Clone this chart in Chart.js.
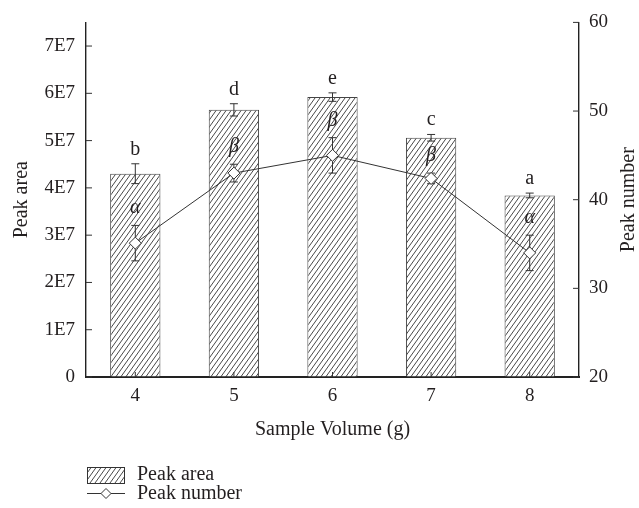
<!DOCTYPE html>
<html>
<head>
<meta charset="utf-8">
<script src="https://cdn.jsdelivr.net/npm/chart.js@4"></script>
<style>
  body { margin: 0; background: #fff; }
  canvas { display: block; }
</style>
</head>
<body>
<canvas id="chart" width="639" height="508"></canvas>
<script>
// Data
const sampleVolumes = ['4', '5', '6', '7', '8'];
const peakArea = [4.30e7, 5.65e7, 5.92e7, 5.06e7, 3.84e7];
const peakAreaErr = [0.21e7, 0.13e7, 0.09e7, 0.07e7, 0.05e7];
const peakNumber = [35.1, 43.0, 45.0, 42.4, 34.0];
const peakNumberErr = [2.0, 1.0, 2.0, 0.6, 2.0];
const areaLetters = ['b', 'd', 'e', 'c', 'a'];
const numberLetters = ['α', 'β', 'β', 'β', 'α'];

const FONT = '"Liberation Serif", "Times New Roman", serif';
const INK = '#231f20';

// diagonal hatch used for the bars (slightly steeper than 45deg)
function makeHatch() {
    const w = 5, h = 7;
    const c = document.createElement('canvas');
    c.width = w; c.height = h;
    const g = c.getContext('2d');
    g.fillStyle = '#fff';
    g.fillRect(0, 0, w, h);
    g.strokeStyle = '#333';
    g.lineWidth = 0.9;
    g.beginPath();
    g.moveTo(0, h); g.lineTo(w, 0);
    g.moveTo(-w, h); g.lineTo(0, 0);
    g.moveTo(w, h); g.lineTo(2 * w, 0);
    g.stroke();
    return g.createPattern(c, 'repeat');
}
const hatch = makeHatch();

// error bars, drawn right after the bars so the diamonds sit on top
const errorBars = {
    id: 'errorBars',
    afterDatasetDraw(chart, args) {
        if (args.index !== 1) return;
        const ctx = chart.ctx;
        const x = chart.scales.x, y = chart.scales.y, y1 = chart.scales.y1;
        ctx.save();
        ctx.strokeStyle = '#333';
        ctx.lineWidth = 1;
        const bar = (px, top, bot) => {
            ctx.beginPath();
            ctx.moveTo(px, top); ctx.lineTo(px, bot);
            ctx.moveTo(px - 4, top); ctx.lineTo(px + 4, top);
            ctx.moveTo(px - 4, bot); ctx.lineTo(px + 4, bot);
            ctx.stroke();
        };
        sampleVolumes.forEach((v, i) => {
            const px = x.getPixelForValue(i);
            bar(px, y.getPixelForValue(peakArea[i] + peakAreaErr[i]), y.getPixelForValue(peakArea[i] - peakAreaErr[i]));
            bar(px, y1.getPixelForValue(peakNumber[i] + peakNumberErr[i]), y1.getPixelForValue(peakNumber[i] - peakNumberErr[i]));
        });
        ctx.restore();
    }
};

// significance letters, inward ticks, right title and legend
const decorations = {
    id: 'decorations',
    afterDraw(chart) {
        const ctx = chart.ctx;
        const x = chart.scales.x, y = chart.scales.y, y1 = chart.scales.y1;
        const area = chart.chartArea;
        ctx.save();
        ctx.fillStyle = INK;
        ctx.textAlign = 'center';
        ctx.textBaseline = 'alphabetic';
        sampleVolumes.forEach((v, i) => {
            const px = x.getPixelForValue(i);
            ctx.font = '20px ' + FONT;
            ctx.fillText(areaLetters[i], px, y.getPixelForValue(peakArea[i] + peakAreaErr[i]) - 9);
            ctx.font = 'italic 20px ' + FONT;
            ctx.fillText(numberLetters[i], px, y1.getPixelForValue(peakNumber[i] + peakNumberErr[i]) - 12);
        });

        // inward tick marks
        ctx.strokeStyle = '#333';
        ctx.lineWidth = 1;
        ctx.beginPath();
        y.ticks.forEach((t, i) => {
            const py = y.getPixelForTick(i);
            const len = Math.round(t.value / 5e6) % 2 === 0 ? 6 : 4;
            ctx.moveTo(area.left, py); ctx.lineTo(area.left + len, py);
        });
        y1.ticks.forEach((t, i) => {
            const py = y1.getPixelForTick(i);
            ctx.moveTo(area.right, py); ctx.lineTo(area.right - 6, py);
        });
        x.ticks.forEach((t, i) => {
            const px = x.getPixelForTick(i);
            ctx.moveTo(px, area.bottom); ctx.lineTo(px, area.bottom - 5);
        });
        ctx.stroke();

        // right axis title reads bottom-to-top like the left one
        ctx.font = '20px ' + FONT;
        ctx.textBaseline = 'middle';
        ctx.save();
        ctx.translate(629, (area.top + area.bottom) / 2);
        ctx.rotate(-Math.PI / 2);
        ctx.fillText('Peak number', 0, 0);
        ctx.restore();

        // legend
        ctx.textAlign = 'left';
        ctx.fillStyle = hatch;
        ctx.fillRect(87, 467, 38, 16);
        ctx.strokeStyle = '#333';
        ctx.strokeRect(87.5, 467.5, 37, 16);
        ctx.beginPath();
        ctx.moveTo(87, 493.5); ctx.lineTo(125, 493.5);
        ctx.stroke();
        ctx.beginPath();
        ctx.moveTo(106, 488.5); ctx.lineTo(111, 493.5); ctx.lineTo(106, 498.5); ctx.lineTo(101, 493.5);
        ctx.closePath();
        ctx.fillStyle = '#fff';
        ctx.fill();
        ctx.stroke();
        ctx.fillStyle = INK;
        ctx.fillText('Peak area', 137, 475);
        ctx.fillText('Peak number', 137, 494);
        ctx.restore();
    }
};

new Chart(document.getElementById('chart').getContext('2d'), {
    data: {
        labels: sampleVolumes,
        datasets: [
            {
                type: 'line',
                label: 'Peak number',
                data: peakNumber,
                yAxisID: 'y1',
                order: 1,
                borderColor: '#333',
                borderWidth: 1,
                pointStyle: 'rectRot',
                pointRadius: 6,
                pointBackgroundColor: '#fff',
                pointBorderColor: '#333',
                pointBorderWidth: 1
            },
            {
                type: 'bar',
                label: 'Peak area',
                data: peakArea,
                yAxisID: 'y',
                order: 2,
                backgroundColor: hatch,
                borderColor: '#444',
                borderWidth: 1,
                barPercentage: 0.51,
                categoryPercentage: 1
            }
        ]
    },
    options: {
        responsive: false,
        animation: false,
        layout: { padding: { top: 22, bottom: 63, left: 0, right: 0 } },
        plugins: { legend: { display: false }, tooltip: { enabled: false } },
        scales: {
            x: {
                offset: true,
                grid: { drawOnChartArea: false, drawTicks: false },
                border: { color: '#222', width: 2 },
                ticks: { color: INK, font: { family: FONT, size: 19 }, padding: 8 },
                title: { display: true, text: 'Sample Volume (g)', color: INK, font: { family: FONT, size: 20 }, padding: { top: 4, bottom: 3 } },
                afterFit(s) { s.height = 68; }
            },
            y: {
                position: 'left',
                min: 0,
                max: 7.5e7,
                grid: { drawOnChartArea: false, drawTicks: false },
                border: { color: '#222', width: 1.4 },
                ticks: {
                    stepSize: 0.5e7,
                    color: INK,
                    font: { family: FONT, size: 19 },
                    padding: 11,
                    callback(v) {
                        const n = Math.round(v / 5e6);
                        if (n % 2 !== 0) return '';
                        return n === 0 ? '0' : (n / 2) + 'E7';
                    }
                },
                title: { display: true, text: 'Peak area', color: INK, font: { family: FONT, size: 20 }, padding: { top: 10, bottom: 4 } },
                afterFit(s) { s.width = 86; }
            },
            y1: {
                position: 'right',
                min: 20,
                max: 60,
                grid: { drawOnChartArea: false, drawTicks: false },
                border: { color: '#222', width: 1.4 },
                ticks: { stepSize: 10, color: INK, font: { family: FONT, size: 19 }, padding: 10 },
                afterFit(s) { s.width = 60; }
            }
        }
    },
    plugins: [errorBars, decorations]
});
</script>
</body>
</html>
